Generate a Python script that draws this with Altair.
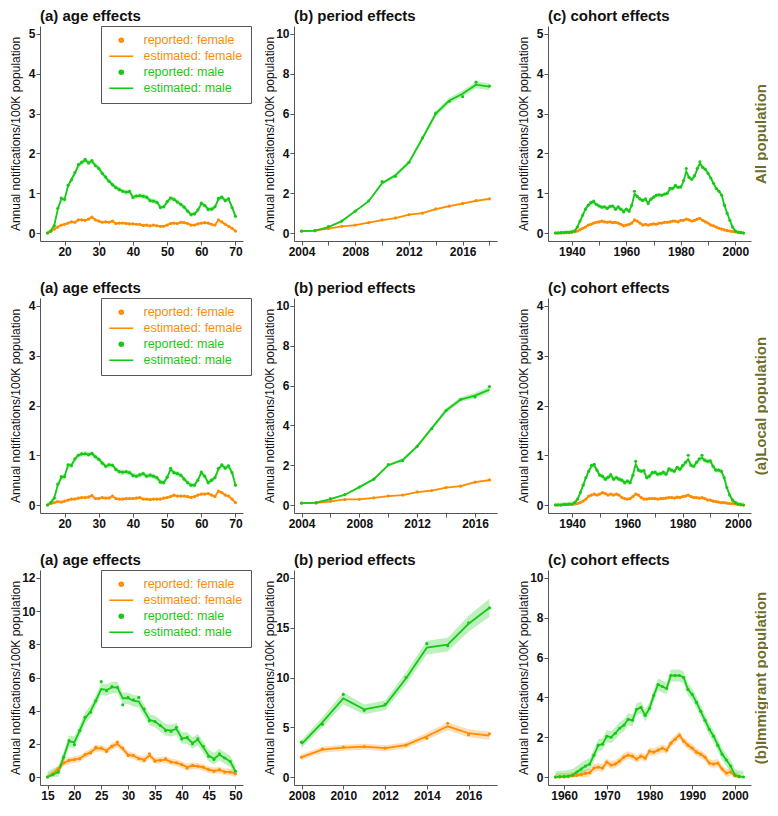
import altair as alt
import pandas as pd

FONT = "Liberation Sans"
ORANGE = "#FF8C00"
GREEN = "#17C917"
OLIVE = "#6E6E2C"
W, H = 203, 215
HSP, VSP = 51, 23

SERIES = ["reported: female", "estimated: female", "reported: male", "estimated: male"]
YTITLE = "Annual notifications/100K population"
ROW_LABELS = ["All population", "(a)Local population", "(b)Immigrant population"]
PANEL_TITLES = ["(a) age effects", "(b) period effects", "(c) cohort effects"]

# ---------------- Row 1: All population ----------------
ALL_AGES = list(range(15, 71))
ALL_AGE_M_EST = [0.0, 0.06, 0.2, 0.6, 0.85, 0.85, 1.18, 1.35, 1.5, 1.7,
                 1.77, 1.83, 1.77, 1.8, 1.7, 1.63, 1.5, 1.4, 1.3, 1.22,
                 1.14, 1.1, 1.05, 1.02, 1.04, 0.9, 0.93, 0.93, 0.93, 0.9,
                 0.82, 0.8, 0.78, 0.65, 0.65, 0.78, 0.88, 0.85, 0.78, 0.72,
                 0.65, 0.55, 0.47, 0.48, 0.57, 0.74, 0.7, 0.6, 0.6, 0.65,
                 0.85, 0.9, 0.82, 0.85, 0.65, 0.42]
ALL_AGE_M_REP = [0.0, 0.05, 0.18, 0.62, 0.88, 0.84, 1.2, 1.33, 1.52, 1.72,
                 1.78, 1.85, 1.76, 1.82, 1.69, 1.62, 1.5, 1.41, 1.3, 1.21,
                 1.14, 1.09, 1.05, 1.03, 1.05, 0.89, 0.93, 0.94, 0.92, 0.9,
                 0.81, 0.8, 0.77, 0.64, 0.66, 0.79, 0.88, 0.84, 0.78, 0.72,
                 0.65, 0.55, 0.46, 0.48, 0.58, 0.75, 0.69, 0.59, 0.6, 0.66,
                 0.87, 0.9, 0.81, 0.86, 0.64, 0.42]
ALL_AGE_F_EST = [0.0, 0.05, 0.1, 0.15, 0.2, 0.22, 0.25, 0.28, 0.27, 0.33,
                 0.33, 0.32, 0.35, 0.4, 0.33, 0.3, 0.27, 0.28, 0.27, 0.3,
                 0.24, 0.25, 0.25, 0.24, 0.23, 0.23, 0.22, 0.22, 0.19, 0.2,
                 0.18, 0.2, 0.18, 0.17, 0.17, 0.2, 0.24, 0.25, 0.24, 0.27,
                 0.26, 0.24, 0.2, 0.2, 0.23, 0.25, 0.26, 0.25, 0.22, 0.2,
                 0.33, 0.28, 0.22, 0.17, 0.12, 0.05]
ALL_AGE_F_REP = ALL_AGE_F_EST
ALL_YEARS = list(range(2004, 2019))
ALL_PER_M_EST = [0.1, 0.12, 0.3, 0.6, 1.1, 1.6, 2.5, 2.9, 3.55, 4.75, 6.0, 6.65, 7.0, 7.45, 7.35]
ALL_PER_M_REP = [0.1, 0.12, 0.32, 0.6, 1.1, 1.62, 2.58, 2.85, 3.55, 4.78, 6.02, 6.62, 6.85, 7.58, 7.38]
ALL_PER_F_EST = [0.1, 0.12, 0.22, 0.33, 0.4, 0.52, 0.65, 0.75, 0.92, 1.0, 1.2, 1.35, 1.48, 1.62, 1.72]
ALL_PER_F_REP = [0.1, 0.12, 0.23, 0.34, 0.4, 0.52, 0.66, 0.76, 0.92, 1.0, 1.21, 1.35, 1.49, 1.63, 1.72]
ALL_PER_M_HW = [0.02, 0.02, 0.03, 0.04, 0.05, 0.06, 0.08, 0.1, 0.1, 0.12, 0.14, 0.15, 0.16, 0.18, 0.18]
ALL_PER_F_HW = [0.01, 0.01, 0.01, 0.02, 0.02, 0.02, 0.03, 0.03, 0.03, 0.03, 0.04, 0.04, 0.04, 0.05, 0.05]
ALL_COHORTS = list(range(1934, 2004))
ALL_COH_M_EST = [0.0, 0.0, 0.01, 0.01, 0.02, 0.02, 0.03,
                 0.05, 0.15, 0.3, 0.45, 0.6, 0.7, 0.75, 0.78, 0.72, 0.68,
                 0.65, 0.65, 0.62, 0.66, 0.68, 0.6, 0.65, 0.6, 0.55, 0.6,
                 0.55, 0.7, 0.98, 0.92, 0.85, 0.82, 0.85, 0.75, 0.85, 0.9,
                 0.95, 0.95, 0.95, 0.97, 1.0, 1.1, 1.12, 1.18, 1.15, 1.15,
                 1.3, 1.55, 1.4, 1.35, 1.42, 1.6, 1.75, 1.65, 1.6, 1.5,
                 1.38, 1.25, 1.12, 1.05, 0.95, 0.7, 0.5, 0.32, 0.15, 0.05,
                 0.02, 0.01, 0.0]
ALL_COH_M_REP = [0.0, 0.0, 0.01, 0.01, 0.02, 0.02, 0.03,
                 0.05, 0.15, 0.3, 0.45, 0.6, 0.7, 0.77, 0.8, 0.72, 0.68,
                 0.65, 0.66, 0.62, 0.67, 0.68, 0.6, 0.66, 0.6, 0.53, 0.6,
                 0.55, 0.7, 1.05, 0.92, 0.86, 0.82, 0.86, 0.74, 0.85, 0.9,
                 0.95, 0.96, 0.95, 0.98, 1.0, 1.12, 1.12, 1.2, 1.15, 1.16,
                 1.32, 1.62, 1.4, 1.35, 1.44, 1.62, 1.79, 1.65, 1.6, 1.5,
                 1.38, 1.25, 1.12, 1.05, 0.95, 0.7, 0.5, 0.32, 0.15, 0.05,
                 0.02, 0.01, 0.0]
ALL_COH_F_EST = [0.0, 0.0, 0.0, 0.01, 0.01, 0.01, 0.02,
                 0.03, 0.05, 0.08, 0.12, 0.15, 0.2, 0.22, 0.25, 0.27, 0.28,
                 0.3, 0.28, 0.27, 0.28, 0.26, 0.27, 0.25, 0.22, 0.18, 0.2,
                 0.22, 0.25, 0.33, 0.3, 0.25, 0.2, 0.22, 0.2, 0.22, 0.23,
                 0.22, 0.25, 0.25, 0.27, 0.27, 0.28, 0.3, 0.3, 0.28, 0.32,
                 0.32, 0.35, 0.33, 0.3, 0.32, 0.35, 0.37, 0.32, 0.28, 0.25,
                 0.2, 0.18, 0.15, 0.12, 0.1, 0.08, 0.06, 0.05, 0.04, 0.03,
                 0.02, 0.01, 0.0]
ALL_COH_F_REP = ALL_COH_F_EST

# ---------------- Row 2: Local population ----------------
LOC_AGES = list(range(15, 71))
LOC_AGE_M_EST = [0.0, 0.05, 0.15, 0.4, 0.55, 0.58, 0.8, 0.8, 0.92, 1.0,
                 1.02, 1.03, 1.02, 1.03, 0.97, 0.92, 0.85, 0.78, 0.8, 0.8,
                 0.72, 0.67, 0.66, 0.66, 0.65, 0.6, 0.58, 0.6, 0.63, 0.58,
                 0.6, 0.58, 0.55, 0.47, 0.45, 0.55, 0.72, 0.65, 0.63, 0.6,
                 0.52, 0.45, 0.4, 0.4, 0.5, 0.65, 0.58, 0.45, 0.5, 0.55,
                 0.72, 0.8, 0.75, 0.78, 0.65, 0.4]
LOC_AGE_M_REP = [0.0, 0.05, 0.14, 0.42, 0.57, 0.57, 0.81, 0.79, 0.93, 1.0,
                 1.03, 1.03, 1.01, 1.04, 0.97, 0.92, 0.84, 0.78, 0.81, 0.8,
                 0.71, 0.67, 0.66, 0.67, 0.65, 0.59, 0.58, 0.61, 0.63, 0.58,
                 0.6, 0.58, 0.55, 0.46, 0.45, 0.56, 0.74, 0.65, 0.63, 0.6,
                 0.52, 0.45, 0.4, 0.4, 0.5, 0.66, 0.58, 0.45, 0.5, 0.55,
                 0.74, 0.81, 0.74, 0.79, 0.65, 0.4]
LOC_AGE_F_EST = [0.0, 0.03, 0.05, 0.07, 0.06, 0.08, 0.1, 0.12, 0.12, 0.14,
                 0.15, 0.15, 0.16, 0.19, 0.13, 0.13, 0.15, 0.14, 0.14, 0.18,
                 0.13, 0.12, 0.12, 0.13, 0.13, 0.13, 0.14, 0.15, 0.12, 0.12,
                 0.11, 0.12, 0.12, 0.12, 0.14, 0.15, 0.17, 0.2, 0.18, 0.18,
                 0.18, 0.17, 0.15, 0.17, 0.2, 0.22, 0.22, 0.23, 0.2, 0.17,
                 0.28, 0.25, 0.2, 0.18, 0.12, 0.05]
LOC_AGE_F_REP = LOC_AGE_F_EST
LOC_YEARS = list(range(2004, 2018))
LOC_PER_M_EST = [0.1, 0.12, 0.3, 0.52, 0.9, 1.3, 2.0, 2.27, 2.95, 3.85, 4.75, 5.3, 5.5, 5.8]
LOC_PER_M_REP = [0.1, 0.12, 0.32, 0.52, 0.9, 1.3, 2.03, 2.23, 2.95, 3.83, 4.75, 5.3, 5.43, 5.95]
LOC_PER_F_EST = [0.1, 0.1, 0.18, 0.28, 0.28, 0.36, 0.45, 0.5, 0.65, 0.72, 0.88, 0.95, 1.15, 1.25]
LOC_PER_F_REP = [0.1, 0.1, 0.18, 0.28, 0.29, 0.36, 0.46, 0.5, 0.66, 0.73, 0.88, 0.95, 1.15, 1.26]
LOC_PER_M_HW = [0.02, 0.02, 0.03, 0.04, 0.05, 0.06, 0.07, 0.08, 0.09, 0.1, 0.12, 0.13, 0.14, 0.16]
LOC_PER_F_HW = [0.01, 0.01, 0.01, 0.02, 0.02, 0.02, 0.02, 0.03, 0.03, 0.03, 0.03, 0.04, 0.04, 0.04]
LOC_COHORTS = list(range(1934, 2003))
LOC_COH_M_EST = [0.0, 0.0, 0.0, 0.01, 0.01, 0.02, 0.02,
                 0.05, 0.12, 0.25, 0.4, 0.55, 0.68, 0.78, 0.8, 0.7, 0.6,
                 0.58, 0.52, 0.55, 0.6, 0.52, 0.55, 0.52, 0.5, 0.45, 0.48,
                 0.45, 0.6, 0.82, 0.7, 0.68, 0.68, 0.55, 0.58, 0.65, 0.65,
                 0.62, 0.63, 0.65, 0.62, 0.72, 0.7, 0.68, 0.75, 0.72, 0.78,
                 0.85, 0.92, 0.8, 0.78, 0.85, 0.92, 0.95, 0.9, 0.88, 0.88,
                 0.78, 0.7, 0.7, 0.68, 0.55, 0.35, 0.2, 0.1, 0.05, 0.02,
                 0.01, 0.0]
LOC_COH_M_REP = [0.0, 0.0, 0.0, 0.01, 0.01, 0.02, 0.02,
                 0.05, 0.12, 0.25, 0.4, 0.55, 0.68, 0.8, 0.82, 0.7, 0.6,
                 0.58, 0.52, 0.56, 0.61, 0.52, 0.55, 0.52, 0.5, 0.45, 0.48,
                 0.45, 0.6, 0.88, 0.7, 0.68, 0.69, 0.55, 0.58, 0.65, 0.66,
                 0.62, 0.63, 0.66, 0.62, 0.73, 0.7, 0.68, 0.76, 0.72, 0.8,
                 0.86, 1.0, 0.8, 0.78, 0.86, 0.93, 1.0, 0.9, 0.88, 0.89,
                 0.78, 0.7, 0.7, 0.68, 0.55, 0.35, 0.2, 0.1, 0.05, 0.02,
                 0.01, 0.0]
LOC_COH_F_EST = [0.0, 0.0, 0.0, 0.01, 0.01, 0.01, 0.01,
                 0.02, 0.03, 0.05, 0.08, 0.12, 0.18, 0.2, 0.22, 0.2, 0.22,
                 0.25, 0.23, 0.2, 0.22, 0.2, 0.22, 0.2, 0.15, 0.13, 0.12,
                 0.13, 0.17, 0.22, 0.2, 0.15, 0.12, 0.12, 0.13, 0.13, 0.13,
                 0.12, 0.13, 0.13, 0.14, 0.15, 0.15, 0.14, 0.16, 0.15, 0.17,
                 0.18, 0.2, 0.17, 0.15, 0.15, 0.14, 0.15, 0.13, 0.1, 0.1,
                 0.08, 0.07, 0.06, 0.05, 0.05, 0.04, 0.03, 0.03, 0.02, 0.01,
                 0.0, 0.0]
LOC_COH_F_REP = LOC_COH_F_EST

# ---------------- Row 3: Immigrant population ----------------
IMM_AGES = list(range(15, 51))
IMM_AGE_M_REP = [0.0, 0.15, 0.3, 1.2, 2.2, 1.95, 2.8, 3.6, 3.9, 4.6,
                 5.75, 5.2, 5.45, 5.4, 4.35, 4.8, 4.65, 4.8, 4.1, 3.4,
                 3.35, 3.1, 2.8, 2.75, 3.0, 2.3, 2.4, 2.0, 2.3, 1.85,
                 1.25, 1.05, 1.4, 1.15, 0.95, 0.35]
IMM_AGE_M_EST = [0.0, 0.15, 0.3, 1.2, 2.15, 2.1, 2.8, 3.55, 3.95, 4.6,
                 5.3, 5.25, 5.4, 5.4, 4.75, 4.75, 4.6, 4.55, 4.0, 3.45,
                 3.35, 3.1, 2.85, 2.8, 2.9, 2.35, 2.35, 2.05, 2.25, 1.8,
                 1.3, 1.1, 1.35, 1.15, 0.95, 0.35]
IMM_AGE_F_REP = [0.0, 0.2, 0.5, 0.85, 1.0, 1.05, 1.1, 1.35, 1.45, 1.8,
                 1.75, 1.55, 1.85, 2.1, 1.75, 1.3, 1.3, 1.1, 1.0, 1.4,
                 0.95, 1.0, 1.1, 0.9, 0.85, 0.75, 0.55, 0.7, 0.65, 0.6,
                 0.45, 0.35, 0.45, 0.3, 0.3, 0.2]
IMM_AGE_F_EST = [0.0, 0.2, 0.5, 0.85, 1.0, 1.05, 1.12, 1.33, 1.5, 1.72,
                 1.72, 1.6, 1.85, 2.0, 1.7, 1.35, 1.28, 1.12, 1.05, 1.3,
                 1.0, 1.0, 1.05, 0.92, 0.85, 0.75, 0.6, 0.68, 0.65, 0.58,
                 0.45, 0.38, 0.42, 0.32, 0.3, 0.2]
IMM_YEARS = list(range(2008, 2018))
IMM_PER_M_REP = [3.5, 5.3, 8.3, 6.7, 7.3, 10.0, 13.4, 13.2, 15.5, 17.0]
IMM_PER_M_EST = [3.3, 5.5, 7.9, 6.8, 7.2, 9.9, 13.0, 13.3, 15.4, 17.0]
IMM_PER_F_REP = [2.0, 2.8, 3.0, 3.05, 2.9, 3.2, 3.9, 5.4, 4.25, 4.35]
IMM_PER_F_EST = [2.0, 2.75, 2.95, 3.05, 2.9, 3.2, 4.1, 5.1, 4.4, 4.15]
IMM_PER_M_HW = [0.4, 0.5, 0.6, 0.5, 0.5, 0.6, 0.7, 0.7, 0.8, 0.9]
IMM_PER_F_HW = [0.3, 0.3, 0.3, 0.3, 0.3, 0.3, 0.35, 0.4, 0.4, 0.4]
IMM_COH_M = list(range(1958, 2003))
IMM_COH_M_EST = [0.0, 0.02, 0.03, 0.05, 0.1,
                 0.25, 0.4, 0.55, 0.65, 1.1,
                 1.6, 1.65, 2.05, 2.0, 2.2,
                 2.45, 2.6, 2.9, 2.85, 3.4,
                 3.5, 3.1, 3.45, 4.1, 4.65,
                 4.55, 4.45, 5.1, 5.1, 5.1,
                 5.0, 4.4, 4.15, 3.75, 3.3,
                 2.85, 2.4, 2.05, 1.6, 1.15,
                 0.85, 0.55, 0.1, 0.03, 0.0]
IMM_COH_M_REP = IMM_COH_M_EST
IMM_COH_F = list(range(1958, 2002))
IMM_COH_F_EST = [0.0, 0.0, 0.0, 0.02, 0.05,
                 0.08, 0.12, 0.18, 0.22, 0.45,
                 0.5, 0.45, 0.75, 0.6, 0.65,
                 0.8, 1.0, 1.1, 1.05, 0.9,
                 1.05, 0.95, 1.3, 1.25, 1.35,
                 1.45, 1.35, 1.7, 1.9, 2.1,
                 1.8, 1.6, 1.45, 1.25, 1.15,
                 1.0, 0.7, 0.65, 0.7, 0.4,
                 0.2, 0.25, 0.05, 0.0]
IMM_COH_F_REP = IMM_COH_F_EST


def expr_color():
    return alt.ExprRef(expr="indexof(datum.value, 'female') >= 0 ? '%s' : '%s'" % (ORANGE, GREEN))


LEGEND = alt.Legend(
    title=None, orient="none", legendX=61, legendY=0, direction="vertical",
    strokeColor="#555", fillColor="white", padding=8, rowPadding=3,
    labelFont=FONT, labelFontSize=12.5, labelColor=expr_color(),
    symbolType=alt.ExprRef(expr="indexof(datum.value, 'reported') >= 0 ? 'circle' : 'M-6,0H6'"),
    symbolSize=16, symbolStrokeWidth=1.6, symbolOffset=6, labelOffset=16,
    symbolStrokeColor=expr_color(), symbolFillColor=expr_color(),
)


def panel(xf, f_rep, f_est, f_hw, xm, m_rep, m_est, m_hw,
          xdom, xticks, ymax, ystep, title, legend=False, label_mod=None, row_label=None):
    line_rows, pt_rows = [], []
    for sex, xs, rep, est, hw in (("female", xf, f_rep, f_est, f_hw),
                                  ("male", xm, m_rep, m_est, m_hw)):
        hws = hw if isinstance(hw, list) else [hw] * len(xs)
        for x, r, e, h in zip(xs, rep, est, hws):
            line_rows.append({"x": x, "est": e, "lo": max(e - h, 0.0), "hi": e + h,
                              "sex": sex, "series": "estimated: " + sex})
            pt_rows.append({"x": x, "rep": r, "series": "reported: " + sex})
    ldf = pd.DataFrame(line_rows)
    pdf = pd.DataFrame(pt_rows)

    xs = alt.Scale(domain=xdom, nice=False, zero=False)
    ys = alt.Scale(domain=[-0.04 * ymax, 1.04 * ymax], nice=False, zero=False)
    xkw = dict(values=xticks, format="d", title=None, grid=False)
    if label_mod:
        xkw["labelExpr"] = "datum.value %% %d == 0 ? datum.label : ''" % label_mod
    xax = alt.Axis(**xkw)
    yax = alt.Axis(values=list(range(0, ymax + 1, ystep)), title=YTITLE, titleX=-25,
                   titleBaseline="middle", grid=False)
    cscale = alt.Scale(domain=SERIES, range=[ORANGE, ORANGE, GREEN, GREEN])
    fscale = alt.Scale(domain=["female", "male"], range=[ORANGE, GREEN])
    leg = LEGEND if legend else None

    if row_label:
        band_yax = alt.Axis(orient="right", title=row_label, titleColor=OLIVE, titleFontSize=15,
                            titleFontWeight="bold", titleAngle=270, titleX=9, titleBaseline="middle",
                            labels=False, ticks=False, domain=False, grid=False)
    else:
        band_yax = yax

    band = alt.Chart(ldf).mark_area(opacity=0.28).encode(
        x=alt.X("x:Q", scale=xs, axis=xax),
        y=alt.Y("lo:Q", scale=ys, axis=band_yax),
        y2="hi:Q",
        fill=alt.Fill("sex:N", scale=fscale, legend=None),
    )
    line = alt.Chart(ldf).mark_line(strokeWidth=1.8).encode(
        x=alt.X("x:Q", scale=xs, axis=xax),
        y=alt.Y("est:Q", scale=ys, axis=yax),
        color=alt.Color("series:N", scale=cscale, legend=leg),
    )
    pts = alt.Chart(pdf).mark_circle(size=10, opacity=1).encode(
        x=alt.X("x:Q", scale=xs, axis=xax),
        y=alt.Y("rep:Q", scale=ys, axis=yax),
        color=alt.Color("series:N", scale=cscale, legend=leg),
    )
    if row_label:
        layered = alt.layer(band, alt.layer(line, pts)).resolve_axis(y="independent")
    else:
        layered = alt.layer(band, line, pts)
    return layered.properties(
        width=W, height=H,
        title=alt.Title(title, anchor="start", frame="group", fontSize=15,
                        fontWeight="bold", font=FONT, offset=2, color="#111"),
    )


def row(charts):
    return alt.hconcat(*charts, spacing=HSP, bounds="flush").resolve_scale(
        color="independent", fill="independent").resolve_legend(color="independent")


AGE_TICKS = [20, 30, 40, 50, 60, 70]
r1 = row([
    panel(ALL_AGES, ALL_AGE_F_REP, ALL_AGE_F_EST, 0.03, ALL_AGES, ALL_AGE_M_REP, ALL_AGE_M_EST, 0.06,
          [12.8, 72.2], AGE_TICKS, 5, 1, PANEL_TITLES[0], legend=True),
    panel(ALL_YEARS, ALL_PER_F_REP, ALL_PER_F_EST, ALL_PER_F_HW, ALL_YEARS, ALL_PER_M_REP, ALL_PER_M_EST, ALL_PER_M_HW,
          [2003.44, 2018.56], list(range(2004, 2019, 2)), 10, 2, PANEL_TITLES[1], label_mod=4),
    panel(ALL_COHORTS, ALL_COH_F_REP, ALL_COH_F_EST, 0.03, ALL_COHORTS, ALL_COH_M_REP, ALL_COH_M_EST, 0.05,
          [1931.24, 2005.76], list(range(1940, 2001, 10)), 5, 1, PANEL_TITLES[2], label_mod=20,
          row_label=ROW_LABELS[0]),
])

r2 = row([
    panel(LOC_AGES, LOC_AGE_F_REP, LOC_AGE_F_EST, 0.03, LOC_AGES, LOC_AGE_M_REP, LOC_AGE_M_EST, 0.05,
          [12.8, 72.2], AGE_TICKS, 4, 1, PANEL_TITLES[0], legend=True),
    panel(LOC_YEARS, LOC_PER_F_REP, LOC_PER_F_EST, LOC_PER_F_HW, LOC_YEARS, LOC_PER_M_REP, LOC_PER_M_EST, LOC_PER_M_HW,
          [2003.48, 2017.52], list(range(2004, 2017, 2)), 10, 2, PANEL_TITLES[1], label_mod=4),
    panel(LOC_COHORTS, LOC_COH_F_REP, LOC_COH_F_EST, 0.03, LOC_COHORTS, LOC_COH_M_REP, LOC_COH_M_EST, 0.05,
          [1931.28, 2004.72], list(range(1940, 2001, 10)), 4, 1, PANEL_TITLES[2], label_mod=20,
          row_label=ROW_LABELS[1]),
])

r3 = row([
    panel(IMM_AGES, IMM_AGE_F_REP, IMM_AGE_F_EST, 0.2, IMM_AGES, IMM_AGE_M_REP, IMM_AGE_M_EST, 0.35,
          [13.6, 51.4], list(range(15, 51, 5)), 12, 2, PANEL_TITLES[0], legend=True),
    panel(IMM_YEARS, IMM_PER_F_REP, IMM_PER_F_EST, IMM_PER_F_HW, IMM_YEARS, IMM_PER_M_REP, IMM_PER_M_EST, IMM_PER_M_HW,
          [2007.64, 2017.36], list(range(2008, 2017, 2)), 20, 5, PANEL_TITLES[1]),
    panel(IMM_COH_F, IMM_COH_F_REP, IMM_COH_F_EST, 0.2, IMM_COH_M, IMM_COH_M_REP, IMM_COH_M_EST, 0.3,
          [1956.24, 2003.76], list(range(1960, 2001, 10)), 10, 2, PANEL_TITLES[2],
          row_label=ROW_LABELS[2]),
])

chart = alt.vconcat(r1, r2, r3, spacing=VSP).resolve_scale(
    color="independent", fill="independent"
).resolve_legend(color="independent").properties(padding=0).configure_view(
    stroke=None
).configure_axis(
    labelFont=FONT, labelFontSize=12, labelFontWeight="bold", labelColor="#111",
    titleFont=FONT, titleFontSize=12, titleFontWeight="normal", titleColor="#111",
    domainColor="#555", tickColor="#555", tickSize=4, labelPadding=1, grid=False,
    labelFlush=False,
)

chart.save("out.html", embed_options={"renderer": "svg", "actions": False})
